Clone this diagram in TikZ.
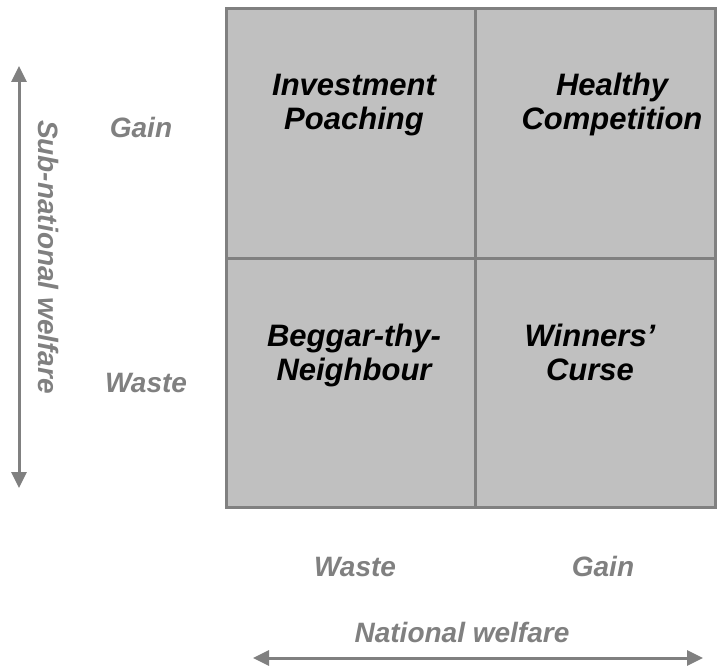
\documentclass[tikz,border=0pt]{standalone}
\usepackage{fontspec}
\setmainfont{Liberation Sans}
\usetikzlibrary{arrows.meta}
\definecolor{cellfill}{HTML}{C0C0C0}
\definecolor{gridline}{HTML}{808080}
\definecolor{labelgray}{HTML}{808080}
\tikzset{
  quad/.style={font=\fontsize{31}{34}\selectfont\bfseries\itshape, align=center, anchor=base, inner sep=0pt, text=black},
  axislabel/.style={font=\fontsize{28}{32}\selectfont\bfseries\itshape, anchor=base, inner sep=0pt, text=labelgray},
  axisarrow/.style={draw=gridline, line width=3pt, {Triangle[width=15pt,length=16pt]}-{Triangle[width=15pt,length=16pt]}},
  gridedge/.style={draw=gridline, line width=3.3pt}
}
\begin{document}
\begin{tikzpicture}[x=1pt,y=-1pt]
\useasboundingbox (0,0) rectangle (717,666);
% grid
\fill[cellfill] (226.7,8.3) rectangle (715.3,507.5);
\draw[gridedge] (226.7,8.3) rectangle (715.3,507.5);
\draw[gridedge] (475.8,8.3) -- (475.8,507.5);
\draw[gridedge] (226.7,258.7) -- (715.3,258.7);
% quadrant labels (anchor base = last line baseline)
\node[quad] (q1) at (354,129) {Investment\\Poaching};
\node[quad] (q2) at (612,129) {Healthy\\Competition};
\node[quad] (q3) at (354,380) {Beggar-thy-\\Neighbour};
\node[quad] (q4) at (590,380) {Winners'\\Curse};
% axis labels
\node[axislabel] (lgain) at (141,137) {Gain};
\node[axislabel] (lwaste) at (146,392) {Waste};
\node[axislabel] (bwaste) at (355,576) {Waste};
\node[axislabel] (bgain) at (603,576) {Gain};
\node[axislabel] (natl) at (462,642) {National welfare};
\node[font=\fontsize{28}{32}\selectfont\bfseries\itshape, text=labelgray, rotate=-90, inner sep=0pt] (subnat) at (49,257) {Sub-national welfare};
% arrows
\coordinate (vtop) at (19,66);
\coordinate (vbot) at (19,488);
\coordinate (hleft) at (253,658);
\coordinate (hright) at (703,658);
\draw[axisarrow] (vtop) -- (vbot);
\draw[axisarrow] (hleft) -- (hright);
\end{tikzpicture}
\end{document}
